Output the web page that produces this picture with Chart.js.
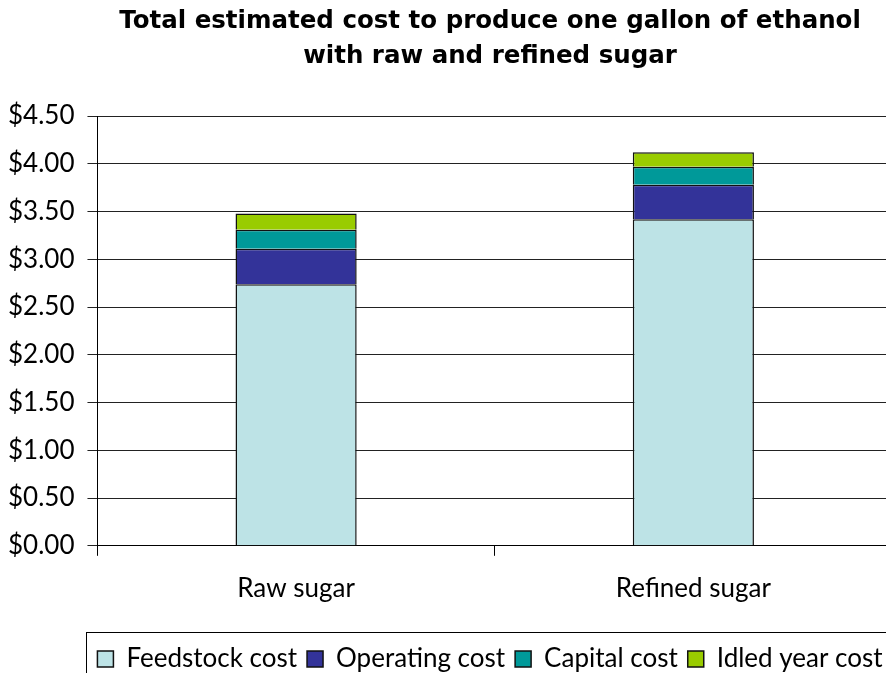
<!DOCTYPE html>
<html>
<head>
<meta charset="utf-8">
<script src="https://cdn.jsdelivr.net/npm/chart.js@4.4.0/dist/chart.umd.min.js"></script>
<style>
  html, body { margin: 0; padding: 0; background: #fff; overflow: hidden; }
  #wrap { width: 886px; height: 673px; overflow: hidden; position: relative; }
  #box { width: 1000px; height: 682px; position: absolute; left: 0; top: 0; }
</style>
</head>
<body>
<div id="wrap"><div id="box"><canvas id="chart"></canvas></div></div>
<script>
// Ethanol cost per gallon, stacked by component
const categories = ['Raw sugar', 'Refined sugar'];
const feedstock  = [2.74, 3.42];
const operating  = [0.37, 0.36];
const capital    = [0.20, 0.19];
const idled      = [0.17, 0.15];
const seriesNames = ['Feedstock cost', 'Operating cost', 'Capital cost', 'Idled year cost'];
const colors = ['#bde3e6', '#333399', '#009999', '#99cc00'];

const FONT = 'Lato, "DejaVu Sans", sans-serif';
const TITLE_FONT = '"DejaVu Sans", sans-serif';

// border around the legend, like the original
const legendBorder = {
  id: 'legendBorder',
  afterDraw(chart) {
    const lg = chart.legend;
    if (!lg) return;
    const ctx = chart.ctx;
    ctx.save();
    ctx.strokeStyle = '#000';
    ctx.lineWidth = 1;
    ctx.strokeRect(86.5, lg.top - 3.5, 900, lg.height + 20);
    ctx.restore();
  }
};

const data = [feedstock, operating, capital, idled];

new Chart(document.getElementById('chart'), {
  type: 'bar',
  data: {
    labels: categories,
    datasets: seriesNames.map((name, i) => ({
      label: name,
      data: data[i],
      backgroundColor: colors[i],
      borderColor: '#111',
      borderWidth: 1.5,
      categoryPercentage: 1,
      barPercentage: 0.305,
    }))
  },
  options: {
    responsive: true,
    maintainAspectRatio: false,
    animation: false,
    layout: { padding: { left: -5, right: 15, top: 4, bottom: 0 } },
    plugins: {
      title: {
        display: true,
        text: ['Total estimated cost to produce one gallon of ethanol', 'with raw and refined sugar'],
        color: '#000',
        font: { family: TITLE_FONT, size: 24.5, weight: 'bold', lineHeight: 1.43 },
        padding: { top: 0, bottom: 42 }
      },
      legend: {
        position: 'bottom',
        labels: {
          color: '#000',
          font: { family: FONT, size: 26 },
          boxWidth: 16,
          boxHeight: 16,
          padding: 10,
        }
      },
      tooltip: { enabled: false }
    },
    scales: {
      x: {
        stacked: true,
        grid: { display: true, drawOnChartArea: false, tickLength: 10, color: '#000', offset: true },
        border: { color: '#000', width: 1 },
        ticks: { color: '#000', font: { family: FONT, size: 26 }, padding: 17 },
        afterFit: s => { s.height += 15; }
      },
      y: {
        stacked: true,
        min: 0,
        max: 4.5,
        grid: { color: '#222', tickLength: 10 },
        border: { color: '#000', width: 1 },
        ticks: {
          stepSize: 0.5,
          color: '#000',
          font: { family: FONT, size: 26 },
          padding: 13,
          callback: v => '$' + v.toFixed(2)
        }
      },
      // empty spacer on the right so the plot runs off the cropped edge
      y2: {
        position: 'right',
        grid: { display: false },
        border: { display: false },
        ticks: { display: false },
        afterFit: s => { s.width = 93; }
      }
    }
  },
  plugins: [legendBorder]
});
</script>
</body>
</html>
